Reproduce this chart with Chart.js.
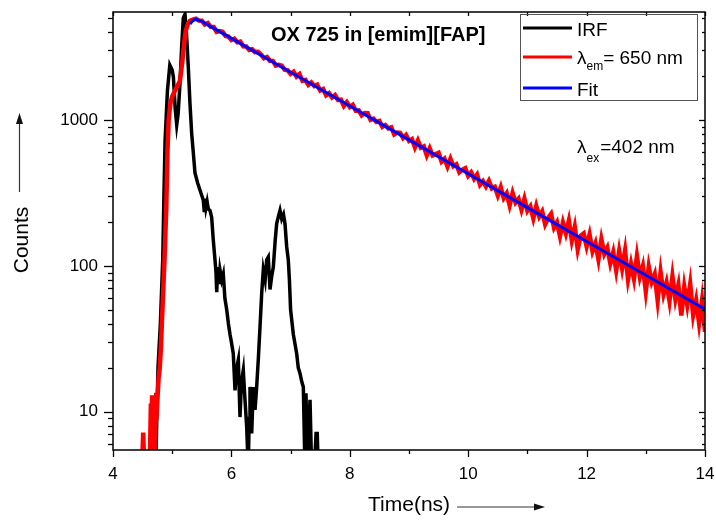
<!DOCTYPE html>
<html>
<head>
<meta charset="utf-8">
<script src="https://cdn.jsdelivr.net/npm/chart.js@4.4.1/dist/chart.umd.min.js"></script>
<style>
  html, body { margin: 0; padding: 0; background: #fff; }
  #c { display: block; }
</style>
</head>
<body>
<canvas id="c" width="716" height="520"></canvas>
<script>
// ---- data ----
const xTicks = [4, 6, 8, 10, 12, 14];
const yTickLabels = [10, 100, 1000];

// Instrument response function (black)
const irfData = [
  [4.72,4],[4.76,20],[4.80,40],[4.84,110],[4.86,300],[4.88,730],[4.92,1600],[4.96,2380],[5.00,2200],
  [5.02,1970],[5.05,1200],[5.076,924],[5.10,1100],[5.132,1790],[5.16,3200],[5.188,5000],[5.216,5300],
  [5.24,4000],[5.272,2300],[5.30,1300],[5.329,810],[5.356,600],[5.385,433],[5.43,370],[5.47,330],
  [5.525,283],[5.54,240],[5.554,290],[5.57,250],[5.59,275],[5.61,245],[5.639,240],[5.667,215],
  [5.694,150],[5.723,110],[5.74,90],[5.752,66],[5.77,98],[5.79,75],[5.807,94],[5.836,80],[5.863,88],
  [5.89,60],[5.921,50],[5.95,40],[5.976,34],[6.00,30],[6.032,25],[6.061,14],[6.09,20],[6.117,22.7],
  [6.145,9.2],[6.17,16],[6.201,19.3],[6.23,12],[6.258,7.9],[6.285,4],[6.30,9],[6.314,14.8],[6.343,7.1],
  [6.37,14.8],[6.399,10.3],[6.427,14.8],[6.454,22.7],[6.483,38],[6.512,65],[6.539,94],[6.57,80],
  [6.596,110],[6.623,115],[6.652,69],[6.681,85],[6.708,98],[6.74,150],[6.765,195],[6.79,215],
  [6.821,240],[6.85,210],[6.88,225],[6.905,195],[6.934,135],[6.961,110],[6.98,80],[7.00,50],
  [7.046,34],[7.103,25],[7.13,20],[7.159,18.3],[7.19,16],[7.215,14.8],[7.243,4],[7.26,13.4],
  [7.285,4],[7.31,8],[7.328,12.1],[7.356,4],[7.40,4],[7.43,7.1],[7.45,7.1],[7.468,4]
];

// Emission decay at 650 nm (red)
const emTimes = [
  4.49,4.51,4.53,4.62,4.64,4.65,4.66,4.68,4.70,4.71,4.72,4.73,4.75,4.77,4.79,4.81,4.83,4.85,4.87,4.90,
  4.92,4.94,4.97,5.00,5.05,5.10,5.13,5.17,5.20,5.23,5.27,5.30,5.35,5.40,5.45,
  5.50,5.55,5.60,5.65,5.70,5.75,5.80,5.85,5.90,5.95,6.00,
  6.05,6.10,6.15,6.20,6.25,6.30,6.35,6.40,6.45,6.50,
  6.55,6.60,6.65,6.70,6.75,6.80,6.85,6.90,6.95,7.00,
  7.05,7.10,7.15,7.20,7.25,7.30,7.35,7.40,7.45,7.50,
  7.55,7.60,7.65,7.70,7.75,7.80,7.85,7.90,7.95,8.00,
  8.05,8.10,8.15,8.20,8.25,8.30,8.35,8.40,8.45,8.50,
  8.55,8.60,8.65,8.70,8.75,8.80,8.85,8.90,8.95,9.00,
  9.05,9.10,9.15,9.20,9.25,9.30,9.35,9.40,9.45,9.50,
  9.55,9.60,9.65,9.70,9.75,9.80,9.85,9.90,9.95,10.00,
  10.05,10.10,10.15,10.20,10.25,10.30,10.35,10.40,10.45,10.50,
  10.55,10.60,10.65,10.70,10.75,10.80,10.85,10.90,10.95,11.00,
  11.05,11.10,11.15,11.20,11.25,11.30,11.35,11.40,11.45,11.50,
  11.55,11.60,11.65,11.70,11.75,11.80,11.85,11.90,11.95,12.00,
  12.05,12.10,12.15,12.20,12.25,12.30,12.35,12.40,12.45,12.50,
  12.55,12.60,12.65,12.70,12.75,12.80,12.85,12.90,12.95,13.00,
  13.05,13.10,13.15,13.20,13.25,13.30,13.35,13.40,13.45,13.50,
  13.55,13.60,13.65,13.70,13.75,13.80,13.85,13.90,13.95,14.00
];
const emCounts = [
  4,7.2,4,4,11.4,6,13,5,4,12,8,13.5,12,17,20,28,45,70,110,250,
  600,1000,1300,1450,1600,1750,1850,2500,3300,4100,4600,4780,4880,4950,4800,
  4797,4518,4615,4349,4337,4024,4074,4026,3771,3738,3531,
  3607,3409,3450,3202,3194,3018,3055,2922,2931,2811,
  2648,2705,2549,2542,2358,2388,2359,2210,2192,2070,
  2143,1986,2061,1855,1880,1740,1808,1709,1748,1595,
  1633,1475,1526,1426,1482,1373,1378,1249,1325,1228,
  1269,1158,1163,1075,1118,1115,1003,1022,970,984,
  897,923,877,892,797,821,816,752,789,720,
  740,649,724,646,660,573,640,571,584,596,
  519,543,479,543,482,496,438,456,468,414,
  437,396,423,360,381,350,383,340,348,304,
  346,292,314,260,315,272,288,243,289,239,
  256,212,257,218,236,193,213,227,183,199,
  160,198,167,204,150,185,130,161,167,136,
  164,126,143,111,152,121,133,104,124,93,
  126.5,96.3,127.4,80.8,103.4,81.6,116.8,84.2,99.6,66.8,
  98.6,77.6,87.6,58.1,90.5,64.2,76.9,57.4,84.8,59.4,
  73.9,45.7,71.9,54.0,75.1,46.1,58.1,40.5,58.1,35.4
];

// Fit (blue)
const fitTimes  = [5.30, 5.35, 5.40, 5.45, 5.50, 6.0, 6.5, 7.0, 8.0, 9.0, 10.0, 11.0, 12.0, 13.0, 14.0];
const fitCounts = [4550, 4830, 4900, 4830, 4740, 3629, 2778, 2127, 1247, 731, 428, 251, 147, 86.2, 50.5];

// ---- build chart ----
const toXY = (ts, vs) => ts.map((t, i) => ({ x: t, y: vs[i] }));
const FONT = '"Liberation Sans", Arial, sans-serif';

const decor = {
  id: 'decor',
  afterDraw(chart) {
    const ctx = chart.ctx;
    const xs = chart.scales.x, ys = chart.scales.y;
    const a = chart.chartArea;
    ctx.save();
    ctx.strokeStyle = '#000';
    ctx.lineWidth = 1.5;
    // frame
    ctx.strokeRect(a.left, a.top, a.right - a.left, a.bottom - a.top);
    // x ticks (bottom outward, top inward)
    ctx.lineWidth = 1.3;
    for (let t = 4; t <= 14; t++) {
      const px = Math.round(xs.getPixelForValue(t)) + 0.5;
      const len = (t % 2 === 0) ? 7 : 4;
      ctx.beginPath(); ctx.moveTo(px, a.bottom); ctx.lineTo(px, a.bottom + len); ctx.stroke();
      ctx.beginPath(); ctx.moveTo(px, a.top); ctx.lineTo(px, a.top + 4); ctx.stroke();
    }
    // y ticks (left outward, right inward)
    for (const d of [1, 10, 100, 1000]) {
      for (let m = 1; m <= 9; m++) {
        const v = m * d;
        if (v < ys.min || v > ys.max) continue;
        const py = Math.round(ys.getPixelForValue(v)) + 0.5;
        const len = m === 1 ? 9 : 5;
        ctx.beginPath(); ctx.moveTo(a.left - len, py); ctx.lineTo(a.left, py); ctx.stroke();
        ctx.beginPath(); ctx.moveTo(a.right, py); ctx.lineTo(a.right - (m === 1 ? 6 : 3), py); ctx.stroke();
      }
    }

    ctx.fillStyle = '#000';
    // title
    ctx.font = 'bold 20px ' + FONT;
    ctx.textBaseline = 'alphabetic';
    ctx.textAlign = 'left';
    ctx.fillText('OX 725 in [emim][FAP]', 271, 41);

    // legend box
    ctx.strokeStyle = '#555';
    ctx.lineWidth = 1;
    ctx.strokeRect(520.5, 14.5, 177, 86);
    const leg = [
      { y: 28, color: '#000' },
      { y: 57, color: '#ff0000' },
      { y: 88, color: '#0000ff' }
    ];
    ctx.lineWidth = 3;
    for (const l of leg) {
      ctx.strokeStyle = l.color;
      ctx.beginPath(); ctx.moveTo(523, l.y); ctx.lineTo(572, l.y); ctx.stroke();
    }
    ctx.fillStyle = '#000';
    ctx.font = '19px ' + FONT;
    ctx.fillText('IRF', 577, 36);
    ctx.fillText('\u03bb', 577, 64);
    let w = ctx.measureText('\u03bb').width;
    ctx.font = '12px ' + FONT;
    ctx.fillText('em', 577 + w, 70);
    const w2 = ctx.measureText('em').width;
    ctx.font = '19px ' + FONT;
    ctx.fillText('= 650 nm', 577 + w + w2, 64);
    ctx.fillText('Fit', 577, 96);

    // excitation annotation
    ctx.font = '19px ' + FONT;
    ctx.fillText('\u03bb', 577, 153);
    w = ctx.measureText('\u03bb').width;
    ctx.font = '12px ' + FONT;
    ctx.fillText('ex', 577 + w, 162);
    const w3 = ctx.measureText('ex').width;
    ctx.font = '19px ' + FONT;
    ctx.fillText('=402 nm', 577 + w + w3 + 1, 153);

    // axis titles
    ctx.font = '21px ' + FONT;
    ctx.fillText('Time(ns)', 368, 511);
    ctx.save();
    ctx.translate(28, 240);
    ctx.rotate(-Math.PI / 2);
    ctx.textAlign = 'center';
    ctx.fillText('Counts', 0, 0);
    ctx.restore();

    // arrows
    ctx.strokeStyle = '#333';
    ctx.fillStyle = '#111';
    ctx.lineWidth = 1.2;
    ctx.beginPath(); ctx.moveTo(457, 507); ctx.lineTo(537, 507); ctx.stroke();
    ctx.beginPath(); ctx.moveTo(545, 507); ctx.lineTo(534, 503.5); ctx.lineTo(534, 510.5); ctx.closePath(); ctx.fill();
    ctx.beginPath(); ctx.moveTo(19.5, 192); ctx.lineTo(19.5, 122); ctx.stroke();
    ctx.beginPath(); ctx.moveTo(19.5, 113); ctx.lineTo(16, 124); ctx.lineTo(23, 124); ctx.closePath(); ctx.fill();
    ctx.restore();
  }
};

new Chart(document.getElementById('c'), {
  type: 'line',
  data: {
    datasets: [
      { label: 'Fit', data: toXY(fitTimes, fitCounts), borderColor: '#0000ff', borderWidth: 3, pointRadius: 0, tension: 0 },
      { label: '\u03bbem= 650 nm', data: toXY(emTimes, emCounts), borderColor: '#ff0000', borderWidth: 4.5, pointRadius: 0, tension: 0 },
      { label: 'IRF', data: irfData.map(p => ({ x: p[0], y: p[1] })), borderColor: '#000000', borderWidth: 3.5, pointRadius: 0, tension: 0 }
    ]
  },
  options: {
    responsive: false,
    animation: false,
    devicePixelRatio: 1,
    layout: { padding: { left: 0, top: 12, right: 11, bottom: 0 } },
    plugins: { legend: { display: false }, tooltip: { enabled: false }, title: { display: false } },
    scales: {
      x: {
        type: 'linear', position: 'bottom', min: 4, max: 14,
        grid: { display: false, drawTicks: false },
        border: { display: false },
        ticks: {
          stepSize: 1, autoSkip: false, maxRotation: 0, padding: 14,
          color: '#000', font: { family: FONT, size: 17 },
          callback: v => xTicks.includes(v) ? String(v) : ''
        },
        afterFit: s => { s.height = 70; s.paddingLeft = 0; s.paddingRight = 0; }
      },
      y: {
        type: 'logarithmic', position: 'left', min: 5.47, max: 5500,
        grid: { display: false, drawTicks: false },
        border: { display: false },
        ticks: {
          autoSkip: false, padding: 15,
          color: '#000', font: { family: FONT, size: 17 },
          callback: v => yTickLabels.some(t => Math.abs(t - v) < 1e-6) ? String(Math.round(v)) : ''
        },
        afterFit: s => { s.width = 113; s.paddingTop = 0; s.paddingBottom = 0; }
      }
    }
  },
  plugins: [decor]
});
</script>
</body>
</html>
